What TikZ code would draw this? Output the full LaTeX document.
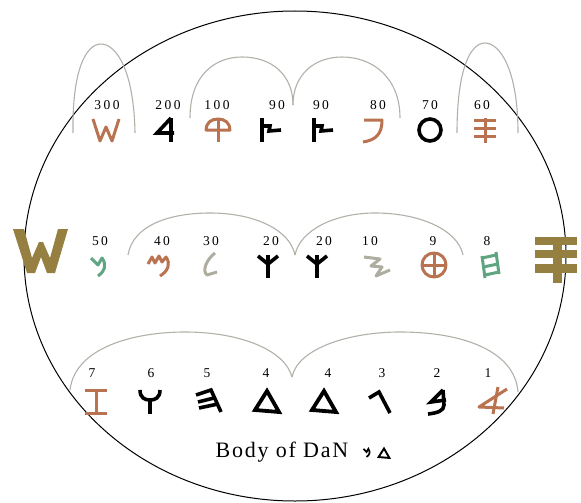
\documentclass[tikz,border=0pt]{standalone}
\usepackage{fontspec}
\setmainfont{Liberation Serif}
\definecolor{brownc}{RGB}{185,115,80}
\definecolor{greenc}{RGB}{95,165,130}
\definecolor{grayc}{RGB}{175,172,160}
\definecolor{olivec}{RGB}{150,128,65}
\definecolor{arcc}{RGB}{178,176,168}
\tikzset{
  blk/.style={line width=3.6pt, line join=miter, line cap=butt, color=black},
  clr/.style={line width=3pt, line join=round, line cap=butt},
  arcline/.style={draw=arcc, line width=1.1pt},
  num/.style={font=\fontsize{13.5}{14}\selectfont\addfontfeatures{LetterSpace=18}, inner sep=0pt},
  shinS/.pic={\draw (-13,-11) -- (-6,11) -- (0,-3) -- (6,11) -- (13,-11);},
  resh/.pic={\draw (4,-12) -- (4,12); \draw (4,-12) -- (-10,3) -- (7,3);},
  qoph/.pic={\draw (-12,0) .. controls (-12,-7) and (-7,-11) .. (0,-11) .. controls (7,-11) and (12,-7) .. (12,0) -- cycle; \draw (0,-11) -- (0,12);},
  tsade/.pic={\draw (-9,-12) -- (-9,12); \draw (-9,-4) -- (-1,-4) -- (-2,1) -- (10,0);},
  pe/.pic={\draw (-10,-10) -- (8,-10) .. controls (8,4) and (2,10) .. (-11,12);},
  ayin/.pic={\draw (0,0) circle[radius=11pt];},
  samekh/.pic={\draw (-11,-10) -- (11,-10); \draw (-11,-2) -- (11,-2); \draw (-11,6) -- (11,6); \draw (0,-12) -- (0,13);},
  nun/.pic={\draw (-8,-7) -- (-1,0) -- (3,-7) .. controls (8,0) and (6,6) .. (-1,11);},
  mem/.pic={\draw (-12,-1) -- (-8,-8) -- (-5,-2) -- (-1,-9) -- (2,-3) -- (6,-8) .. controls (11,-1) and (8,6) .. (0,11);},
  lamed/.pic={\draw (5,-12) .. controls (-4,-5) and (-8,6) .. (-3,10) -- (7,7);},
  kaph/.pic={\draw (0,-11) -- (0,12); \draw (-10,-10) -- (0,-2) -- (10,-10);},
  yod/.pic={\draw (-13,-8) -- (3,-6) -- (-6,1) -- (5,2) -- (-1,11) -- (13,5);},
  teth/.pic={\draw (0,0) circle[radius=12pt]; \draw (-12,0) -- (12,0); \draw (0,-12) -- (0,12);},
  heth/.pic={\draw (-8,-9) -- (-5,13); \draw (6,-13) -- (9,9); \draw (-8,-7) -- (6,-10); \draw (-7,2) -- (8,-1); \draw (-5,10) -- (9,7);},
  zayin/.pic={\draw (-11,-11) -- (11,-11); \draw (0,-11) -- (0,12); \draw (-11,12) -- (11,12);},
  waw/.pic={\draw (-10,-11) .. controls (-10,-3) and (-5,-1) .. (0,-1) .. controls (5,-1) and (10,-3) .. (10,-11); \draw (0,-1) -- (0,13);},
  he/.pic={\draw (-12,-6) -- (3,-11) -- (13,11); \draw (-10,1) -- (6,-3); \draw (-9,7) -- (10,3);},
  daleth/.pic={\draw (0,-10) -- (-12,9) -- (12,11) -- cycle;},
  gimel/.pic={\draw (-12,-3) -- (-2,-9) -- (9,12);},
  beth/.pic={\draw (6,-11) -- (-6,1) -- (9,-1); \draw (6,-11) -- (7,4) .. controls (7,10) and (0,12) .. (-9,13);},
  aleph/.pic={\draw (15,-12) -- (-13,6) -- (12,7); \draw (6,-14) -- (1,13);}
}
\begin{document}
\begin{tikzpicture}[x=1pt,y=-1pt]
\useasboundingbox (0,0) rectangle (581,503);
\draw[line width=1pt] (295,256) ellipse [x radius=271pt, y radius=245pt];

% arcs row 1
\draw[arcline] (73,133) .. controls (72,70) and (86,44) .. (101,44) .. controls (116,44) and (134,70) .. (135,133);
\draw[arcline] (190,118) .. controls (190,75) and (215,57) .. (242,57) .. controls (272,57) and (293,75) .. (293,105);
\draw[arcline] (293,105) .. controls (293,75) and (314,57) .. (342,57) .. controls (372,57) and (400,77) .. (400,118);
\draw[arcline] (457,133) .. controls (457,70) and (470,43) .. (485,43) .. controls (500,43) and (518,70) .. (518,133);
% arcs row 2
\draw[arcline] (128,255) .. controls (133,225) and (170,213) .. (210,213) .. controls (255,213) and (290,230) .. (295,255);
\draw[arcline] (295,255) .. controls (300,230) and (335,213) .. (375,213) .. controls (420,213) and (458,230) .. (463,255);
% arcs row 3
\draw[arcline] (70,390) .. controls (75,347) and (135,332) .. (185,332) .. controls (240,332) and (285,350) .. (292,377);
\draw[arcline] (292,377) .. controls (298,348) and (350,332) .. (400,332) .. controls (465,332) and (515,352) .. (518,392);

% row 1 numbers
\node[num] (n300) at (107,105) {300};
\node[num] (n200) at (168,105) {200};
\node[num] (n100) at (217,105) {100};
\node[num] (n90a) at (277,105) {90};
\node[num] (n90b) at (321,105) {90};
\node[num] (n80) at (378,105) {80};
\node[num] (n70) at (430,105) {70};
\node[num] (n60) at (482,105) {60};
% row 1 glyphs
\pic[clr, color=brownc] (g300) at (106,130) {shinS};
\pic[blk] (g200) at (167,130) {resh};
\pic[clr, color=brownc] (g100) at (218,130) {qoph};
\pic[blk] (g90a) at (271,130) {tsade};
\pic[blk] (g90b) at (323,130) {tsade};
\pic[clr, color=brownc] (g80) at (374,130) {pe};
\pic[blk] (g70) at (430,130) {ayin};
\pic[clr, color=brownc] (g60) at (485,130) {samekh};

% row 2 big glyphs
\fill[olivec] (13,229) -- (24,229) -- (32,258) -- (39,242) -- (43,242) -- (50,258) -- (58,229) -- (68,229) -- (55,273) -- (47,273) -- (41,257) -- (35,273) -- (27,273) -- cycle;
\fill[olivec] (535,237) rectangle (577,245);
\fill[olivec] (535,250) rectangle (577,258);
\fill[olivec] (535,264) rectangle (577,273);
\fill[olivec] (553,237) rectangle (562,283);

% row 2 numbers
\node[num] (n50) at (100,241) {50};
\node[num] (n40) at (162,241) {40};
\node[num] (n30) at (211,241) {30};
\node[num] (n20a) at (271,241) {20};
\node[num] (n20b) at (324,241) {20};
\node[num] (n10) at (370,241) {10};
\node[num] (n9) at (433,241) {9};
\node[num] (n8) at (487,241) {8};
% row 2 glyphs
\pic[clr, color=greenc] (g50) at (99,265) {nun};
\pic[clr, color=brownc] (g40) at (160,265) {mem};
\pic[clr, color=grayc] (g30) at (210,265) {lamed};
\pic[blk] (g20a) at (268,266) {kaph};
\pic[blk] (g20b) at (317,266) {kaph};
\pic[clr, color=grayc] (g10) at (377,265) {yod};
\pic[clr, color=brownc] (g9) at (434,265) {teth};
\pic[clr, color=greenc] (g8) at (490,265) {heth};

% row 3 numbers
\node[num] (n7) at (92,373) {7};
\node[num] (n6) at (151,373) {6};
\node[num] (n5) at (207,373) {5};
\node[num] (n4a) at (266,373) {4};
\node[num] (n4b) at (328,373) {4};
\node[num] (n3) at (382,373) {3};
\node[num] (n2) at (437,373) {2};
\node[num] (n1) at (488,373) {1};
% row 3 glyphs
\pic[clr, color=brownc] (g7) at (96,401) {zayin};
\pic[blk] (g6) at (150,401) {waw};
\pic[blk] (g5) at (208,401) {he};
\pic[blk, line width=3.8pt] (g4a) at (267,401) {daleth};
\pic[blk, line width=3.8pt] (g4b) at (324,401) {daleth};
\pic[blk] (g3) at (381,401) {gimel};
\pic[blk] (g2) at (437,401) {beth};
\pic[clr, color=brownc] (g1) at (492,401) {aleph};

% caption
\node[inner sep=0pt, font=\fontsize{22}{23}\selectfont\addfontfeatures{LetterSpace=8}] (cap) at (282,452) {Body of DaN};
\pic[line width=1.7pt, line join=miter, scale=0.45] (cn) at (367,452) {nun};
\pic[line width=1.9pt, line join=miter, scale=0.45] (cd) at (384,453) {daleth};
\end{tikzpicture}
\end{document}
